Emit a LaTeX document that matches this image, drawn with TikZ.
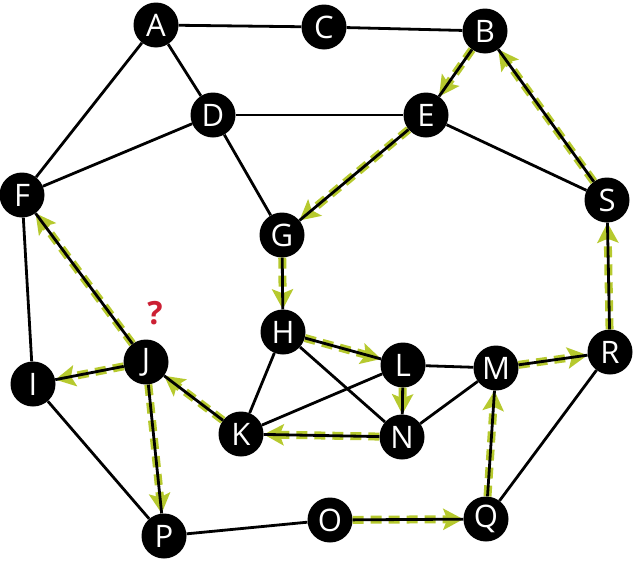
\documentclass[tikz,border=0pt]{standalone}
\usepackage{fontspec}
\setmainfont{Open Sans}
\usetikzlibrary{arrows.meta}
\definecolor{walkgreen}{RGB}{182,201,46}
\definecolor{askred}{RGB}{204,32,52}

\begin{document}
\begin{tikzpicture}[x=1pt,y=-1pt]

        \useasboundingbox (0,0) rectangle (634,565);

        \begin{scope}[every node/.style={circle,fill=black,text=white,minimum size=45pt,inner sep=0pt,font=\fontsize{31}{31}\selectfont}]
          \node (A)  at (156,25)  {A};
          \node (C)  at (324,27)  {C};
          \node (B)  at (485,31)  {B};
          \node (D)  at (213,115) {D};
          \node (E)  at (426,115) {E};
          \node (F)  at (22,195)  {F};
          \node (G)  at (282,235) {G};
          \node (S)  at (607,200) {S};
          \node (H)  at (283,332) {H};
          \node (J)  at (146,362) {J};
          \node (I)  at (33,384)  {I};
          \node (L)  at (403,365) {L};
          \node (M)  at (496,368) {M};
          \node (R)  at (610,352) {R};
          \node (K)  at (241,434) {K};
          \node (N)  at (402,437) {N};
          \node (P)  at (164,536) {P};
          \node (O)  at (330,520) {O};
          \node (Q)  at (486,519) {Q};
        \end{scope}

        \node[text=askred,font=\bfseries\fontsize{32}{32}\selectfont] (ask) at (155,313) {?};

        \begin{scope}[every edge/.style={draw=walkgreen,line width=8pt,dash pattern=on 11pt off 7pt,-{Stealth[length=20pt,width=21pt,inset=4pt]}}]
          \path (B)  edge (E);
          \path (E)  edge (G);
          \path (G)  edge (H);
          \path (H)  edge (L);
          \path (L)  edge (N);
          \path (N)  edge (K);
          \path (K)  edge (J);
          \path (J)  edge (F);
          \path (J)  edge (I);
          \path (J)  edge (P);
          \path (O)  edge (Q);
          \path (Q)  edge (M);
          \path (M)  edge (R);
          \path (R)  edge (S);
          \path (S)  edge (B);
        \end{scope}

        \begin{scope}[every edge/.style={draw,line width=2.8pt}]
          \path (A)  edge (C);
          \path (C)  edge (B);
          \path (A)  edge (D);
          \path (A)  edge (F);
          \path (D)  edge (E);
          \path (D)  edge (F);
          \path (D)  edge (G);
          \path (E)  edge (S);
          \path (B)  edge (S);
          \path (B)  edge (E);
          \path (E)  edge (G);
          \path (F)  edge (I);
          \path (F)  edge (J);
          \path (I)  edge (J);
          \path (I)  edge (P);
          \path (J)  edge (K);
          \path (J)  edge (P);
          \path (G)  edge (H);
          \path (H)  edge (K);
          \path (H)  edge (L);
          \path (H)  edge (N);
          \path (K)  edge (L);
          \path (K)  edge (N);
          \path (L)  edge (M);
          \path (L)  edge (N);
          \path (N)  edge (M);
          \path (M)  edge (R);
          \path (M)  edge (Q);
          \path (R)  edge (S);
          \path (R)  edge (Q);
          \path (P)  edge (O);
          \path (O)  edge (Q);
        \end{scope}

      \end{tikzpicture}
\end{document}
